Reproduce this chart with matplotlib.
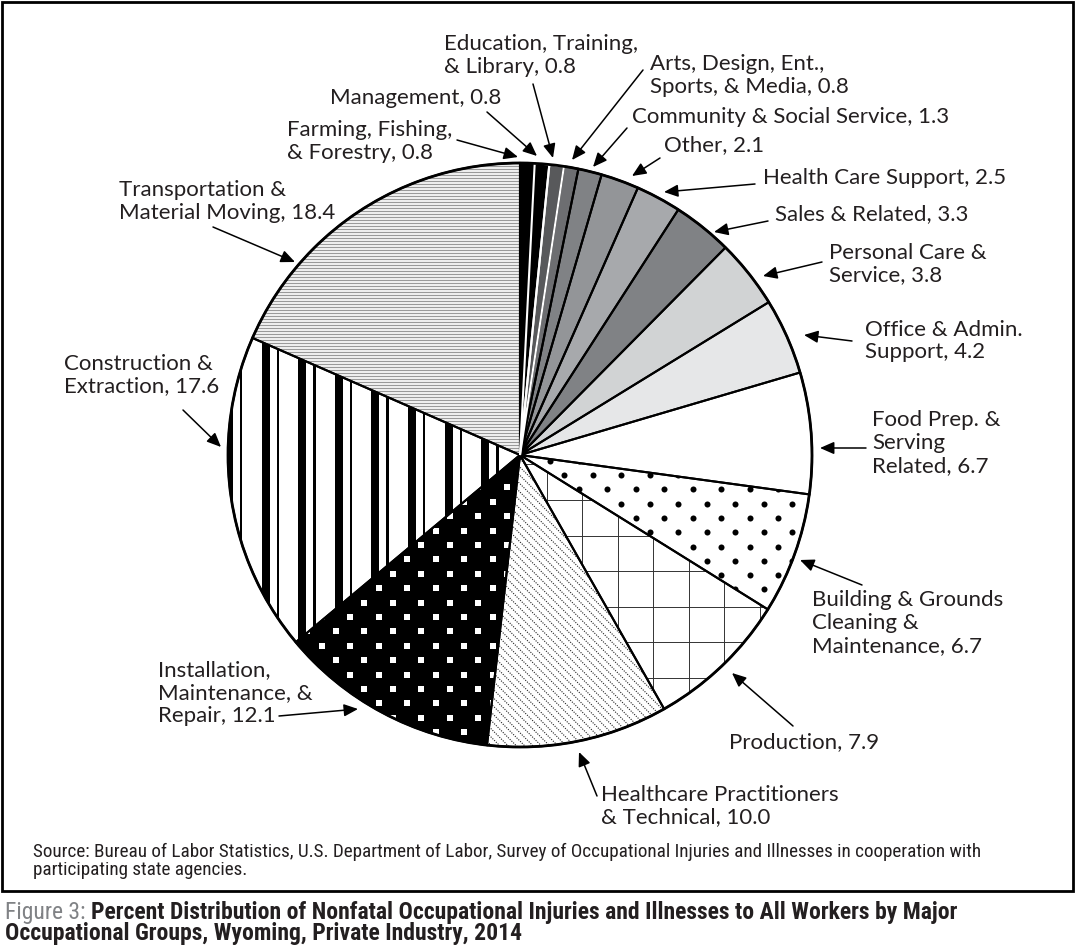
import numpy as np
import matplotlib
matplotlib.use("Agg")
import matplotlib.pyplot as plt
from matplotlib import font_manager
from matplotlib.patches import Rectangle, Circle, ArrowStyle
from matplotlib.collections import LineCollection

# --- data (percent of cases, clockwise from 12 o'clock) ---
groups = [
    "Farming, Fishing,\n& Forestry", "Management", "Education, Training,\n& Library",
    "Arts, Design, Ent.,\nSports, & Media", "Community & Social Service", "Other",
    "Health Care Support", "Sales & Related", "Personal Care &\nService",
    "Office & Admin.\nSupport", "Food Prep. &\nServing\nRelated",
    "Building & Grounds\nCleaning &\nMaintenance", "Production",
    "Healthcare Practitioners\n& Technical", "Installation,\nMaintenance, &\nRepair",
    "Construction &\nExtraction", "Transportation &\nMaterial Moving",
]
percent = [0.8, 0.8, 0.8, 0.8, 1.3, 2.1, 2.5, 3.3, 3.8, 4.2, 6.7, 6.7, 7.9, 10.0, 12.1, 17.6, 18.4]
fills = ["black", "black", "#58595b", "#6d6e71", "#808285", "#939598", "#a7a9ac", "#808285",
         "#d1d3d4", "#e6e7e8", "white", "white", "white", "white", "black", "white", "white"]

source = ("Source: Bureau of Labor Statistics, U.S. Department of Labor, Survey of Occupational "
          "Injuries and Illnesses in cooperation with\nparticipating state agencies.")
fig_no = "Figure 3:"
title1 = "Percent Distribution of Nonfatal Occupational Injuries and Illnesses to All Workers by Major"
title2 = "Occupational Groups, Wyoming, Private Industry, 2014"

# label layout in pixels: (text x, first baseline y, arrow tail, arrow tip)
layout = [
    (287, 135, (457, 140), (518, 157)),
    (330, 104, (487, 112), (537, 156)),
    (444, 49, (533, 84), (553, 158)),
    (650, 69, (643, 70), (572, 160)),
    (632, 123, (627, 128), (593, 167)),
    (664, 151, (660, 158), (632, 176)),
    (763, 184, (755, 184), (664, 192)),
    (775, 220, (768, 221), (714, 232)),
    (829, 258, (822, 262), (763, 276)),
    (865, 335, (852, 341), (804, 335)),
    (872, 425, (866, 448), (820, 448)),
    (812, 605, (862, 585), (800, 560)),
    (729, 748, (793, 726), (732, 673)),
    (601, 800, (597, 796), (579, 752)),
    (158, 675, (279, 716), (358, 709)),
    (64, 369, (183, 410), (221, 447)),
    (119, 195, (213, 227), (295, 262)),
]

W, H = 1075, 948
cx, cy, R = 520, 455, 292
ink = "#231f20"
line_gap = 23.5

installed = {f.name for f in font_manager.fontManager.ttflist}
def pick(*names):
    for n in names:
        if n in installed:
            return n
    return "DejaVu Sans"
label_font = pick("Lato", "Open Sans", "Noto Sans")
cond_font = pick("Liberation Sans Narrow", "Roboto Condensed", "Open Sans Condensed", "Lato")

fig = plt.figure(figsize=(W / 100, H / 100), dpi=100)
ax = fig.add_axes([0, 0, 1, 1])
renderer = fig.canvas.get_renderer()

def fit_size(text, family, width, **kw):
    t = ax.text(0, 0, text, fontsize=10, family=family, **kw)
    size = 10 * width / t.get_window_extent(renderer).width
    t.remove()
    return size

def spacing_for(gap, family, size, **kw):
    # measure the baseline gap that linespacing=1 gives, then scale
    one = ax.text(0, 0, "Ag", fontsize=size, family=family, linespacing=1.0, **kw)
    two = ax.text(0, 0, "Ag\nAg", fontsize=size, family=family, linespacing=1.0, **kw)
    unit = two.get_window_extent(renderer).height - one.get_window_extent(renderer).height
    one.remove()
    two.remove()
    return gap / unit

wedges, _ = ax.pie(percent, colors=fills, startangle=-90, counterclock=True,
                   center=(cx, cy), radius=R, frame=True,
                   wedgeprops=dict(linewidth=0, zorder=1))
outlines, _ = ax.pie(percent, startangle=-90, counterclock=True,
                     center=(cx, cy), radius=R, frame=True,
                     wedgeprops=dict(fill=False, edgecolor="black", linewidth=1.5, zorder=5))
for i in (1, 2):
    outlines[i].set_edgecolor("white")
    outlines[i].set_zorder(6)
ax.add_patch(Circle((cx, cy), R, fill=False, edgecolor="black", linewidth=2, zorder=7))

ax.set_xlim(0, W)
ax.set_ylim(H, 0)
ax.set_aspect("auto")
ax.axis("off")

# transportation: fine gray horizontal lines
ys = np.arange(cy - R, cy + R, 3.0)
lc = ax.hlines(ys, cx - R, cx + R, colors="#9a9a9a", linewidth=0.95, zorder=2)
lc.set_clip_path(wedges[16])

# construction: thick + thin vertical bars
for x0 in np.arange(224.9, cx + R, 36.6):
    for dx, bw in ((0, 8), (15, 2.5)):
        bar = Rectangle((x0 + dx, cy - R), bw, 2 * R, facecolor="black", linewidth=0, zorder=2)
        ax.add_patch(bar)
        bar.set_clip_path(wedges[15])

# installation: white squares on black
rows = np.arange(-45, 45)
sx, sy = [], []
for j in rows:
    xs = 321.7 + (j % 2) * 14.25 + np.arange(-15, 15) * 28.5
    sx.extend(xs)
    sy.extend([645.7 + j * 14.4] * len(xs))
sq = ax.scatter(sx, sy, marker="s", s=13, c="white", linewidths=0, zorder=2)
sq.set_clip_path(wedges[14])

# building & grounds: black dots on white
dx_, dy_ = [], []
for j in rows:
    xs = 564.3 + (j % 2) * 14.25 + np.arange(-15, 15) * 28.5
    dx_.extend(xs)
    dy_.extend([475 + j * 14.3] * len(xs))
dots = ax.scatter(dx_, dy_, marker="o", s=19, c="black", linewidths=0, zorder=2)
dots.set_clip_path(wedges[11])

# production: square grid
gx = 546.7 + np.arange(-10, 10) * 35.5
gy = 500 + np.arange(-10, 10) * 35.6
v = ax.vlines(gx, cy - R, cy + R, colors="#333333", linewidth=0.7, zorder=2)
h = ax.hlines(gy, cx - R, cx + R, colors="#333333", linewidth=0.7, zorder=2)
v.set_clip_path(wedges[12])
h.set_clip_path(wedges[12])

# healthcare practitioners: dotted diagonals
segs = [[(cx - R, cx - R + c), (cx + R, cx + R + c)] for c in np.arange(-2 * R, 2 * R, 8.3)]
diag = LineCollection(segs, colors="#222222", linewidths=0.8, linestyles=(0, (1, 1.2)), zorder=2)
ax.add_collection(diag)
diag.set_clip_path(wedges[13])

# --- labels and arrows ---
label_size = fit_size("Education, Training,", label_font, 193)
spacing = spacing_for(line_gap, label_font, label_size)

head = ArrowStyle("-|>", head_length=0.5, head_width=0.22)
for name, val, (tx, ty, tail, tip) in zip(groups, percent, layout):
    text = f"{name}, {val:.1f}"
    # baseline anchoring uses the last line, so shift by the extra lines
    ty_last = ty + text.count("\n") * line_gap
    ax.text(tx, ty_last, text, fontsize=label_size, family=label_font,
            color=ink, va="baseline", ha="left", linespacing=spacing, zorder=8)
    ax.annotate("", xy=tip, xytext=tail, zorder=8,
                arrowprops=dict(arrowstyle=head, color="black", lw=1.1,
                                shrinkA=0, shrinkB=0, mutation_scale=17))

# frame around the chart
ax.add_patch(Rectangle((1.5, 1.5), W - 4, 889, fill=False, edgecolor="black",
                       linewidth=2, zorder=9, clip_on=False))

# source note
s_size = fit_size(source.split("\n")[0], cond_font, 944)
ax.text(33, 857 + 18, source, fontsize=s_size, family=cond_font, color=ink,
        va="baseline", ha="left", linespacing=spacing_for(18, cond_font, s_size), zorder=9)

# figure title
t0 = ax.text(5, 919, fig_no, fontsize=12, family=cond_font, color="#808285",
             va="baseline", ha="left")
t1 = ax.text(0, 919, title1, fontsize=12, family=cond_font, fontweight="bold",
             color=ink, va="baseline", ha="left")
w_total = t0.get_window_extent(renderer).width + 4 + t1.get_window_extent(renderer).width
t_size = 12 * 953 / w_total
t0.set_fontsize(t_size)
t1.set_fontsize(t_size)
t1.set_x(t0.get_window_extent(renderer).x1 + 4 * t_size / 12)
ax.text(5, 940, title2, fontsize=t_size, family=cond_font, fontweight="bold",
        color=ink, va="baseline", ha="left")

fig.savefig("out.png", dpi=100)
